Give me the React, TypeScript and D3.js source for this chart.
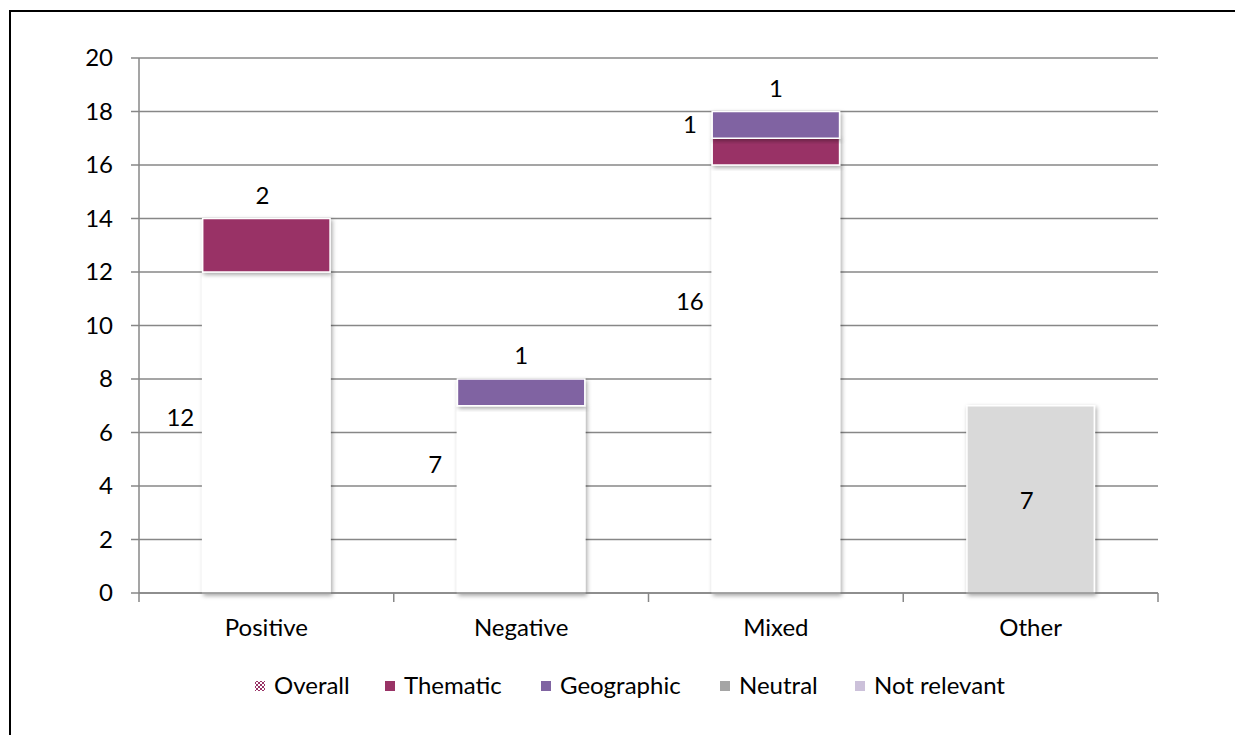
import React from "react";
import * as d3 from "d3";

const categories = ["Positive", "Negative", "Mixed", "Other"];
const overall = [12, 7, 16, 0];
const thematic = [2, 0, 1, 0];
const geographic = [0, 1, 1, 0];
const otherSeries = [0, 0, 0, 7];
const yTicks = [0, 2, 4, 6, 8, 10, 12, 14, 16, 18, 20];
const legendItems = ["Overall", "Thematic", "Geographic", "Neutral", "Not relevant"];
// label anchors in data units
const overallLabelY = [6.54, 4.79, 10.88, 0];
const thematicLabelMode = ["top", "", "left", ""];
const geographicLabelMode = ["", "top", "top", ""];

const COLORS = {
  Overall: "#ffffff",
  Thematic: "#993366",
  Geographic: "#8064A2",
  Neutral: "#A5A5A5",
  "Not relevant": "#CCC1DA",
  Other: "#D9D9D9",
};

export default function App() {
  const W = 1235, H = 735;
  const left = 139, right = 1158, top = 58, bottom = 593;
  const x = d3.scaleBand().domain(categories).range([left, right]).paddingInner(0.5).paddingOuter(0.25);
  const y = d3.scaleLinear().domain([0, 20]).range([bottom, top]);
  const bw = x.bandwidth();
  const font = "Lato, 'Open Sans', sans-serif";
  const fs = 24;
  const step = (right - left) / categories.length;
  const gridColor = "#878787";

  const segs: { cat: string; y0: number; y1: number; color: string; key: string }[] = [];
  categories.forEach((c, i) => {
    let base = 0;
    const push = (v: number, color: string, key: string) => {
      if (v > 0) segs.push({ cat: c, y0: base, y1: base + v, color, key });
      base += v;
    };
    push(overall[i], COLORS.Overall, "Overall");
    push(thematic[i], COLORS.Thematic, "Thematic");
    push(geographic[i], COLORS.Geographic, "Geographic");
    push(otherSeries[i], COLORS.Other, "Other");
  });

  const labels: { x: number; y: number; t: string }[] = [];
  categories.forEach((c, i) => {
    const cx = (x(c) as number) + bw / 2;
    if (overall[i] > 0) labels.push({ x: cx - 86, y: y(overallLabelY[i]), t: String(overall[i]) });
    const tTop = overall[i] + thematic[i];
    if (thematic[i] > 0) {
      if (thematicLabelMode[i] === "top") labels.push({ x: cx - 4, y: y(tTop) - 23, t: String(thematic[i]) });
      else labels.push({ x: cx - 86, y: y(tTop + 0.5), t: String(thematic[i]) });
    }
    const gTop = tTop + geographic[i];
    if (geographic[i] > 0 && geographicLabelMode[i] === "top")
      labels.push({ x: cx, y: y(gTop) - 23, t: String(geographic[i]) });
    if (otherSeries[i] > 0) labels.push({ x: cx - 4, y: y(gTop + otherSeries[i] / 2) + 1, t: String(otherSeries[i]) });
  });

  const legendX = [255, 385, 541, 720, 855];
  const legendY = 686;

  return (
    <svg width={W} height={H} style={{ position: "absolute", left: 0, top: 0 }}>
      <defs>
        <filter id="sh" x="-10%" y="-10%" width="130%" height="130%">
          <feDropShadow dx="1.5" dy="2" stdDeviation="2" floodColor="#000" floodOpacity="0.35" />
        </filter>
        <pattern id="pat" width="4" height="4" patternUnits="userSpaceOnUse">
          <rect width="4" height="4" fill="#fff" />
          <rect x="0" y="0" width="2" height="2" fill="#993366" />
          <rect x="2" y="2" width="2" height="2" fill="#993366" />
        </pattern>
      </defs>
      <rect x={0} y={0} width={W} height={H} fill="#fff" />
      <rect x={10} y={11} width={W + 20} height={H + 20} fill="none" stroke="#000" strokeWidth={2} />
      {yTicks.map((t) => (
        <g key={t}>
          <line x1={left - 8} x2={right} y1={y(t)} y2={y(t)} stroke={gridColor} strokeWidth={1.5} />
          <text x={113} y={y(t)} dy="0.35em" textAnchor="end" fontFamily={font} fontSize={fs}>{t}</text>
        </g>
      ))}
      <line x1={left} x2={left} y1={top} y2={bottom} stroke={gridColor} strokeWidth={1.5} />
      {d3.range(categories.length + 1).map((i) => (
        <line key={i} x1={left + i * step} x2={left + i * step} y1={bottom} y2={bottom + 9} stroke={gridColor} strokeWidth={1.5} />
      ))}
      {segs.map((s, i) => (
        <rect key={i} x={x(s.cat) as number} y={y(s.y1)} width={bw} height={y(s.y0) - y(s.y1)}
          fill={s.color} stroke="#fff" strokeWidth={1.5} filter="url(#sh)" />
      ))}
      <line x1={left} x2={right} y1={bottom} y2={bottom} stroke={gridColor} strokeWidth={1.5} />
      {labels.map((l, i) => (
        <text key={i} x={l.x} y={l.y} dy="0.35em" textAnchor="middle" fontFamily={font} fontSize={fs}>{l.t}</text>
      ))}
      {categories.map((c) => (
        <text key={c} x={(x(c) as number) + bw / 2} y={628} dy="0.35em" textAnchor="middle" fontFamily={font} fontSize={fs}>{c}</text>
      ))}
      {legendItems.map((k, i) => (
        <g key={k}>
          <rect x={legendX[i]} y={legendY - 5} width={10} height={10}
            fill={k === "Overall" ? "url(#pat)" : (COLORS as any)[k]} />
          <text x={legendX[i] + 19} y={legendY} dy="0.35em" fontFamily={font} fontSize={fs}>{k}</text>
        </g>
      ))}
    </svg>
  );
}
